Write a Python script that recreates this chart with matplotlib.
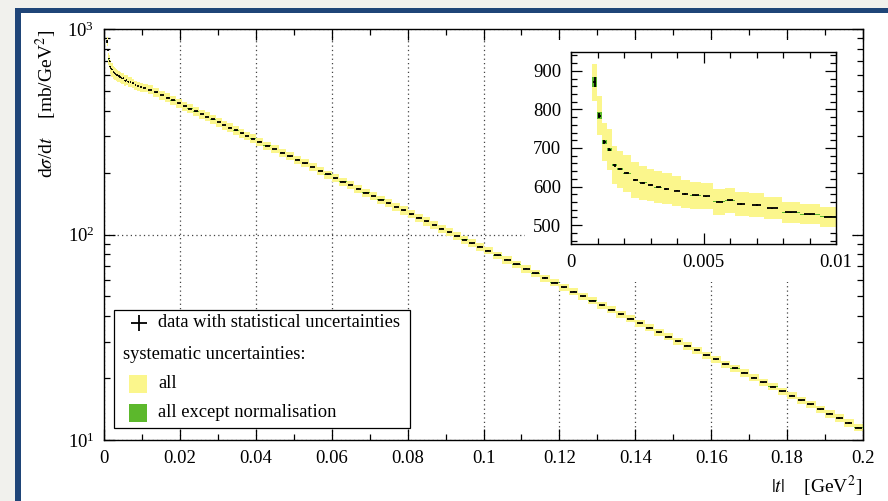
import numpy as np
import matplotlib
matplotlib.use("Agg")
import matplotlib.pyplot as plt
from matplotlib.patches import Rectangle
from matplotlib.ticker import MultipleLocator, FixedLocator, FixedFormatter, LogLocator, NullFormatter

plt.rcParams['font.family'] = ['Liberation Serif', 'DejaVu Serif']
plt.rcParams['mathtext.fontset'] = 'stix'
plt.rcParams['font.size'] = 13.5

# ---- data: bin centres |t| [GeV^2] and dsigma/dt [mb/GeV^2] ----
# low |t| part (seen in the inset)
t_low = [0.00089, 0.00107, 0.00126, 0.00145, 0.00165, 0.00185, 0.0021, 0.00242,
         0.0027, 0.0030, 0.0033, 0.0036, 0.0040, 0.0043, 0.0047, 0.0051,
         0.0056, 0.0060, 0.0064, 0.0070, 0.0076, 0.0083, 0.0090, 0.0098]
dsdt_low = [871, 784, 716, 696, 655, 645, 634, 617,
            610, 604, 598, 594, 589, 581, 577, 575,
            561, 564, 555, 552, 544, 533, 528, 522]
sys_low = [0.055, 0.065, 0.07, 0.075, 0.075, 0.075, 0.075, 0.074,
           0.072, 0.07, 0.07, 0.068, 0.066, 0.064, 0.062, 0.06,
           0.06, 0.058, 0.056, 0.055, 0.054, 0.052, 0.05, 0.05]
nonorm_low = [0.016, 0.012, 0.008, 0.006, 0.004, 0.003, 0.002, 0.0015,
              0.0012, 0.001, 0.001, 0.001, 0.001, 0.001, 0.001, 0.001,
              0.001, 0.001, 0.001, 0.001, 0.001, 0.001, 0.001, 0.001]
stat_low = [0.014, 0.008, 0.007, 0.006, 0.005, 0.005, 0.004, 0.004,
            0.004, 0.003, 0.003, 0.003, 0.003, 0.003, 0.003, 0.003,
            0.003, 0.003, 0.003, 0.003, 0.003, 0.003, 0.003, 0.003]

# higher |t| part (main panel)
t_high = [0.01075, 0.01225, 0.01375, 0.01525, 0.01675, 0.01825, 0.01975, 0.02125,
          0.02275, 0.02425, 0.02575, 0.02725, 0.02875, 0.03025, 0.03175, 0.03325,
          0.03475, 0.03625, 0.03775, 0.03925,
          0.041, 0.043, 0.045, 0.047, 0.049, 0.051, 0.053, 0.055, 0.057, 0.059,
          0.061, 0.063, 0.065, 0.067, 0.069, 0.071, 0.073, 0.075, 0.077, 0.079,
          0.081, 0.083, 0.085, 0.087, 0.089, 0.091, 0.093, 0.095, 0.097, 0.099,
          0.10125, 0.10375, 0.10625, 0.10875, 0.11125, 0.11375, 0.11625, 0.11875,
          0.12125, 0.12375, 0.12625, 0.12875, 0.13125, 0.13375, 0.13625, 0.13875,
          0.14125, 0.14375, 0.14625, 0.14875, 0.15125, 0.15375, 0.15625, 0.15875,
          0.16125, 0.16375, 0.16625, 0.16875, 0.17125, 0.17375, 0.17625, 0.17875,
          0.18125, 0.18375, 0.18625, 0.18875, 0.19125, 0.19375, 0.19625, 0.19875]
dsdt_high = [517, 506, 492, 477, 463, 449, 435, 422,
             410, 397, 385, 374, 363, 352, 341, 331,
             321, 311, 302, 293,
             283, 271, 261, 250, 240, 231, 222, 213, 204, 196,
             188, 181, 174, 167, 160, 154, 148, 142, 136, 131,
             125.6, 120.6, 115.8, 111.2, 106.7, 102.5, 98.4, 94.5, 90.7, 87.1,
             83.3, 79.1, 75.2, 71.5, 68.0, 64.6, 61.4, 58.4,
             55.5, 52.7, 50.1, 47.7, 45.3, 43.1, 40.9, 38.9,
             37.0, 35.2, 33.4, 31.8, 30.2, 28.7, 27.3, 25.9,
             24.7, 23.4, 22.3, 21.2, 20.1, 19.1, 18.2, 17.3,
             16.4, 15.6, 14.9, 14.1, 13.4, 12.8, 12.1, 11.5]
sys_high = [0.05] * 20 + [0.045] * 30 + [0.04] * 40
nonorm_high = [0.001] * 90
stat_high = [0.003] * 20 + [0.004] * 30 + [0.006] * 40

xticks_main = [0, 0.02, 0.04, 0.06, 0.08, 0.1, 0.12, 0.14, 0.16, 0.18, 0.2]
xlabels_main = ["0", "0.02", "0.04", "0.06", "0.08", "0.1", "0.12", "0.14", "0.16", "0.18", "0.2"]
xticks_inset = [0, 0.005, 0.01]
xlabels_inset = ["0", "0.005", "0.01"]

YELLOW = '#fbf68c'
GREEN = '#5cb82c'

t = np.array(t_low + t_high)
y = np.array(dsdt_low + dsdt_high, dtype=float)
sys_rel = np.array(sys_low + sys_high)
nonorm_rel = np.array(nonorm_low + nonorm_high)
stat_rel = np.array(stat_low + stat_high)

mid = 0.5 * (t[1:] + t[:-1])
edges = np.concatenate([[t[0] - (mid[0] - t[0])], mid, [t[-1] + (t[-1] - mid[-1])]])
width = np.diff(edges)


def draw_data(a, xw):
    a.stairs(y * (1 + sys_rel), edges, baseline=y * (1 - sys_rel), fill=True,
             color=YELLOW, lw=0, zorder=2)
    a.stairs(y * (1 + nonorm_rel), edges, baseline=y * (1 - nonorm_rel), fill=True,
             color=GREEN, lw=0, zorder=3)
    a.errorbar(t, y, xerr=xw * width, yerr=stat_rel * y, fmt='none',
               ecolor='black', elinewidth=1.3, capsize=0, zorder=4)


fig = plt.figure(figsize=(8.88, 5.01), dpi=100)
fig.patch.set_facecolor('#f1f1ed')
# slide frame
fig.patches.append(Rectangle((15 / 888, 0), 1.0, 1 - 8 / 501, transform=fig.transFigure,
                             facecolor='#1f4578', edgecolor='none', zorder=-2))
fig.patches.append(Rectangle((21 / 888, 0), 1.0, 1 - 13 / 501, transform=fig.transFigure,
                             facecolor='white', edgecolor='none', zorder=-1))

ax = fig.add_axes([104 / 888, 1 - 440 / 501, 759 / 888, 411 / 501])
ax.set_facecolor('none')
ax.set_yscale('log')
ax.set_xlim(0, 0.2)
ax.set_ylim(10, 1000)
draw_data(ax, 0.35)

ax.xaxis.set_major_locator(FixedLocator(xticks_main))
ax.xaxis.set_major_formatter(FixedFormatter(xlabels_main))
ax.xaxis.set_minor_locator(MultipleLocator(0.01))
ax.yaxis.set_major_locator(LogLocator(base=10, numticks=10))
ax.yaxis.set_minor_locator(LogLocator(base=10, subs=np.arange(2, 10), numticks=20))
ax.yaxis.set_minor_formatter(NullFormatter())
ax.tick_params(which='both', direction='in', top=True, right=True, width=0.9)
ax.tick_params(which='major', length=8, pad=7)
ax.tick_params(which='minor', length=4)
ax.set_axisbelow(True)
ax.grid(True, which='major', linestyle=(0, (1, 2.5)), color='#444444', linewidth=0.9)
for s in ax.spines.values():
    s.set_linewidth(1.0)

# white area behind the inset
ax.add_patch(Rectangle((0.5547, 0.384), 0.43, 0.589, transform=ax.transAxes,
                       facecolor='white', edgecolor='none', zorder=1))

# legend box drawn by hand
ax.add_patch(Rectangle((0.0132, 0.029), 0.39, 0.287, transform=ax.transAxes,
                       facecolor='white', edgecolor='black', linewidth=0.9, zorder=6))
ax.plot([0.046], [0.285], transform=ax.transAxes, marker='+', ms=12, mew=1.3,
        color='black', zorder=7)
ax.text(0.071, 0.285, 'data with statistical uncertainties', transform=ax.transAxes,
        va='center', ha='left', fontsize=13.3, zorder=7)
ax.text(0.025, 0.207, 'systematic uncertainties:', transform=ax.transAxes,
        va='center', ha='left', fontsize=13.3, zorder=7)
ax.add_patch(Rectangle((0.033, 0.115), 0.024, 0.044, transform=ax.transAxes,
                       facecolor=YELLOW, edgecolor='none', zorder=7))
ax.text(0.071, 0.137, 'all', transform=ax.transAxes, va='center', ha='left',
        fontsize=13.3, zorder=7)
ax.add_patch(Rectangle((0.033, 0.044), 0.024, 0.044, transform=ax.transAxes,
                       facecolor=GREEN, edgecolor='none', zorder=7))
ax.text(0.071, 0.066, 'all except normalisation', transform=ax.transAxes,
        va='center', ha='left', fontsize=13.3, zorder=7)

fig.text(0.0525, 1 - 30 / 501, r'd$\sigma$/d$t$    [mb/GeV$^2$]', rotation=90,
         ha='center', va='top', fontsize=14)
fig.text(862 / 888, 1 - 486 / 501, r'$|t|$    [GeV$^2$]', ha='right', va='center',
         fontsize=14)

# inset
axi = fig.add_axes([571 / 888, 1 - 244 / 501, 265 / 888, 192 / 501])
axi.set_xlim(0, 0.01)
axi.set_ylim(451, 949)
draw_data(axi, 0.3)
axi.xaxis.set_major_locator(FixedLocator(xticks_inset))
axi.xaxis.set_major_formatter(FixedFormatter(xlabels_inset))
axi.xaxis.set_minor_locator(MultipleLocator(0.001))
axi.yaxis.set_major_locator(MultipleLocator(100))
axi.yaxis.set_minor_locator(MultipleLocator(20))
axi.tick_params(which='both', direction='in', top=True, right=True, width=0.9)
axi.tick_params(which='major', length=8, pad=7)
axi.tick_params(which='minor', length=4)
for s in axi.spines.values():
    s.set_linewidth(1.0)

fig.savefig('out.png', dpi=100, facecolor=fig.get_facecolor())
